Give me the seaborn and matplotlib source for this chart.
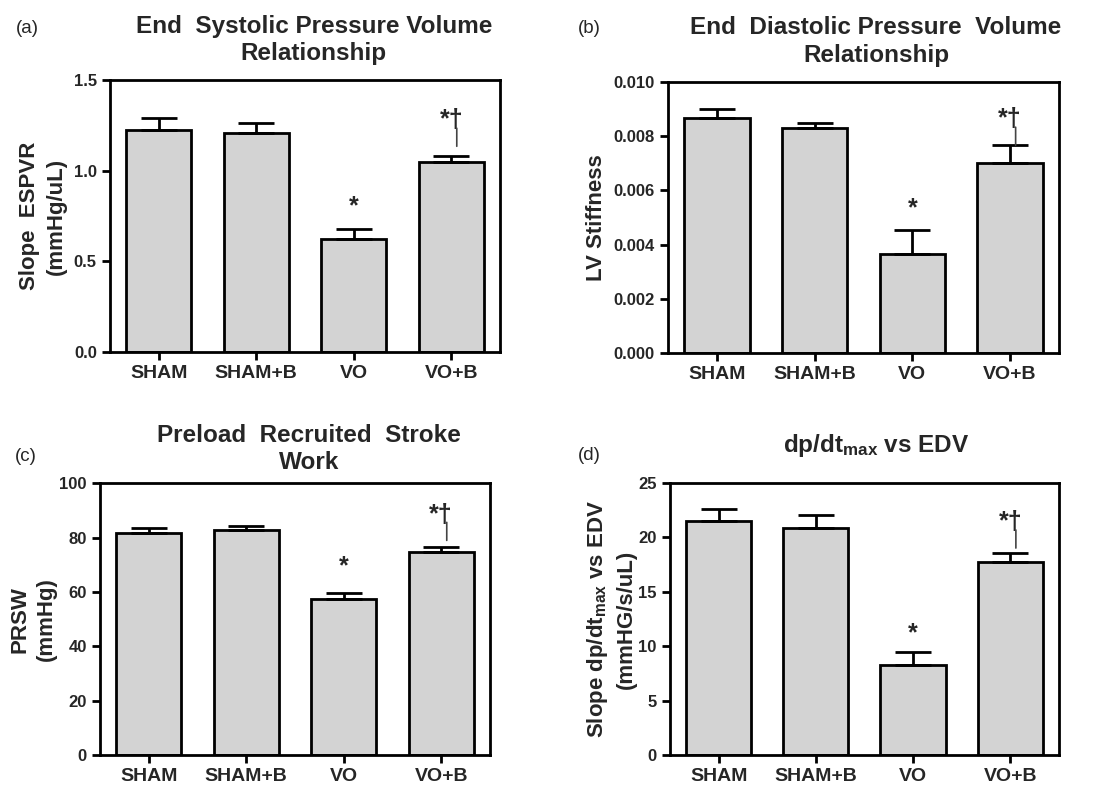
import numpy as np
import matplotlib
matplotlib.use('Agg')
import matplotlib.pyplot as plt
from matplotlib.transforms import offset_copy
import seaborn as sns

# data (mean and upward SEM per group)
groups = ['SHAM', 'SHAM+B', 'VO', 'VO+B']

espvr_mean = [1.224, 1.206, 0.621, 1.050]
espvr_sem = [0.065, 0.055, 0.055, 0.031]

edpvr_mean = [0.00866, 0.00829, 0.00364, 0.0070]
edpvr_sem = [0.00034, 0.00018, 0.00090, 0.00068]

prsw_mean = [81.6, 82.8, 57.4, 74.6]
prsw_sem = [1.8, 1.5, 2.3, 2.0]

dpdt_mean = [21.5, 20.9, 8.27, 17.7]
dpdt_sem = [1.1, 1.16, 1.17, 0.9]

# significance marks: * vs SHAM, † vs VO
marks = ['', '', '*', '*\u2020']

sns.set_style('ticks')
plt.rcParams['font.family'] = ['Liberation Sans', 'DejaVu Sans']
plt.rcParams['mathtext.fontset'] = 'custom'
plt.rcParams['mathtext.rm'] = 'Liberation Sans:bold'
plt.rcParams['mathtext.it'] = 'Liberation Sans:bold'
plt.rcParams['mathtext.bf'] = 'Liberation Sans:bold'
plt.rcParams['mathtext.default'] = 'rm'

fig = plt.figure(figsize=(11.01, 7.85), dpi=100)

ax_a = fig.add_axes([0.0999, 0.5516, 0.3542, 0.3465])
ax_b = fig.add_axes([0.6067, 0.5503, 0.3551, 0.3452])
ax_c = fig.add_axes([0.0908, 0.0382, 0.3542, 0.3461])
ax_d = fig.add_axes([0.6085, 0.0382, 0.3533, 0.3465])


def draw_panel(ax, means, sems, ymax, step, ylabel, gap):
    sns.barplot(x=groups, y=means, color='#d3d3d3', saturation=1,
                edgecolor='black', linewidth=2, width=0.67,
                errorbar=None, ax=ax)
    ax.errorbar(range(len(groups)), means, yerr=[np.zeros(len(means)), sems],
                fmt='none', ecolor='black', elinewidth=2, capsize=13,
                capthick=2, zorder=1)
    ax.set_xlim(-0.5, 3.5)
    ax.set_ylim(0, ymax)
    ax.set_yticks(np.arange(0, ymax + step / 2, step))
    for s in ax.spines.values():
        s.set_linewidth(2)
        s.set_color('black')
    ax.tick_params(axis='both', width=2, length=6, color='black')
    ax.tick_params(axis='x', labelsize=14)
    ax.tick_params(axis='y', labelsize=12)
    for lab in ax.get_xticklabels() + ax.get_yticklabels():
        lab.set_fontweight('bold')
    ax.set_ylabel(ylabel, fontsize=16, fontweight='bold', linespacing=1.35)
    ax.set_xlabel('')
    stem_trans = offset_copy(ax.transData, fig=fig, x=4, y=3, units='points')
    for i, m in enumerate(marks):
        if not m:
            continue
        y = means[i] + sems[i] + gap[i]
        ax.text(i, y, m, ha='center', va='bottom', fontsize=18, fontweight='bold')
        if '\u2020' in m:
            # long thin stem under the dagger
            ax.annotate('', xy=(i, y), xycoords=stem_trans,
                        xytext=(0, -13), textcoords='offset points',
                        arrowprops=dict(arrowstyle='-', lw=1.2, color='#444444',
                                        shrinkA=0, shrinkB=0))


draw_panel(ax_a, espvr_mean, espvr_sem, 1.5, 0.5,
           'Slope  ESPVR\n(mmHg/uL)', [0, 0, 0.06, 0.13])
draw_panel(ax_b, edpvr_mean, edpvr_sem, 0.010, 0.002,
           'LV Stiffness', [0, 0, 0.00037, 0.00050])
draw_panel(ax_c, prsw_mean, prsw_sem, 100, 20,
           'PRSW\n(mmHg)', [0, 0, 5.5, 7.5])
draw_panel(ax_d, dpdt_mean, dpdt_sem, 25, 5,
           'Slope dp/dt$_{max}$ vs EDV\n(mmHG/s/uL)', [0, 0, 0.6, 1.7])

ax_a.yaxis.set_label_coords(-0.110, 0.5)
ax_b.yaxis.set_label_coords(-0.156, 0.5)
ax_c.yaxis.set_label_coords(-0.110, 0.5)
ax_d.yaxis.set_label_coords(-0.085, 0.5)

# titles
fig.text(0.285, 0.949, 'End  Systolic Pressure Volume\nRelationship',
         ha='center', va='center', fontsize=17.5, fontweight='bold', linespacing=1.25)
fig.text(0.7956, 0.947, 'End  Diastolic Pressure  Volume\nRelationship',
         ha='center', va='center', fontsize=17.5, fontweight='bold', linespacing=1.25)
fig.text(0.2807, 0.428, 'Preload  Recruited  Stroke\nWork',
         ha='center', va='center', fontsize=17.5, fontweight='bold', linespacing=1.25)
fig.text(0.7956, 0.433, 'dp/dt$_{max}$ vs EDV',
         ha='center', va='center', fontsize=17.5, fontweight='bold')

# panel letters
fig.text(0.0145, 0.964, '(a)', fontsize=13.5, va='center')
fig.text(0.525, 0.964, '(b)', fontsize=13.5, va='center')
fig.text(0.0136, 0.418, '(c)', fontsize=13.5, va='center')
fig.text(0.525, 0.420, '(d)', fontsize=13.5, va='center')

fig.savefig('out.png', dpi=100)
